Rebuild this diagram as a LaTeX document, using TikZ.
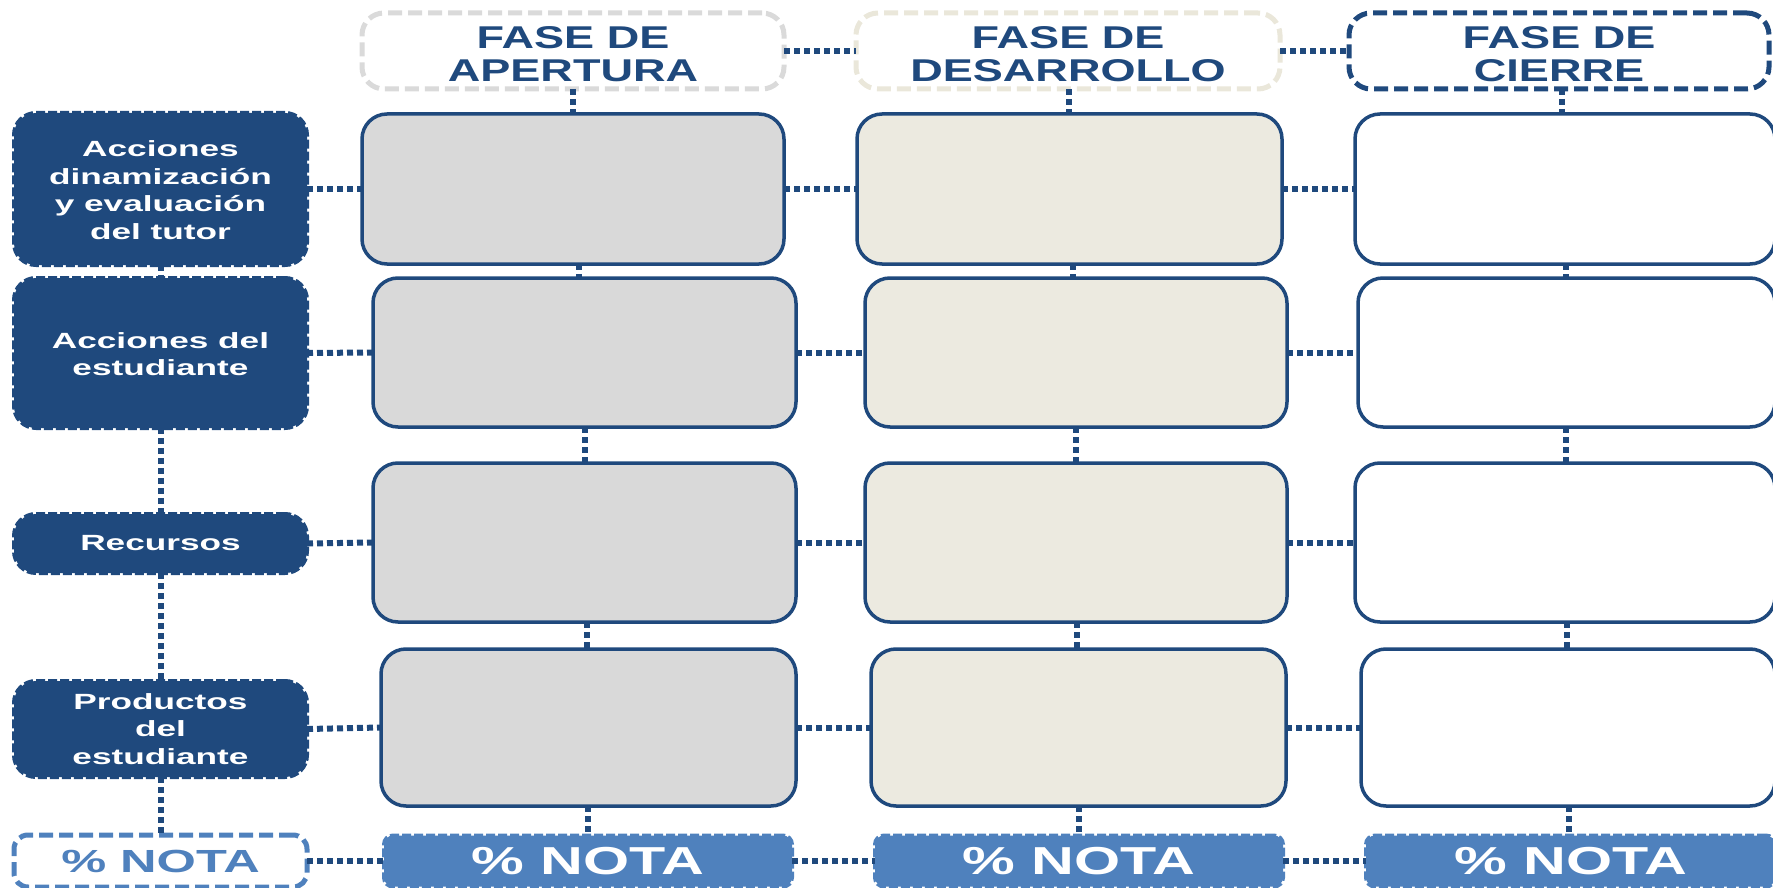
\documentclass[tikz,border=0pt]{standalone}
\usepackage{fontspec}
\setmainfont{Liberation Sans}
\usepackage{graphicx}
\usetikzlibrary{calc}
\definecolor{navy}{HTML}{1F497D}
\definecolor{notablue}{HTML}{4F81BD}
\definecolor{grayfill}{HTML}{D9D9D9}
\definecolor{beigefill}{HTML}{ECEAE0}
\definecolor{beigeline}{HTML}{EAE7DA}
\definecolor{grayline}{HTML}{DADADA}
\newcommand{\sx}[3][-3pt]{\raisebox{#1}[\height][\depth]{\scalebox{#2}[1]{\begin{tabular}{@{}c@{}}#3\end{tabular}}}}
\newcommand{\vcon}[2]{\coordinate (vm) at ($(#1.south)!.5!(#2.north)$); \draw[conn] (vm |- #1.south) -- (vm |- #2.north);}
\begin{document}
\begin{tikzpicture}[x=1pt,y=-1pt,
  every node/.style={inner sep=0pt, outer sep=0pt},
  sz/.style 2 args={minimum width=#1pt, minimum height=#2pt},
  hdr/.style={fill=white, line width=5pt, dash pattern=on 14pt off 6pt, rounded corners=22pt, text=navy, font=\fontsize{31.5}{33}\selectfont\bfseries},
  lbl/.style={fill=navy, draw=navy, line width=4pt, dash pattern=on 9pt off 3pt, rounded corners=22pt, text=white, font=\fontsize{22}{27.5}\selectfont\bfseries},
  nota/.style={fill=notablue, draw=notablue, line width=4pt, dash pattern=on 9pt off 3pt, rounded corners=9pt, text=white, font=\fontsize{39}{44}\selectfont\bfseries},
  notaw/.style={fill=white, draw=notablue, line width=5pt, dash pattern=on 14pt off 6pt, rounded corners=14pt, text=notablue, font=\fontsize{32}{36}\selectfont\bfseries},
  cellbox/.style={draw=navy, line width=3.5pt, rounded corners=25pt},
  cellA/.style={cellbox, fill=grayfill},
  cellB/.style={cellbox, fill=beigefill},
  cellC/.style={cellbox, fill=white},
  conn/.style={draw=navy, line width=6pt, dash pattern=on 6pt off 4pt}
]
\useasboundingbox (0,0) rectangle (1773,888);
% headers
\node[hdr, draw=grayline, sz={422}{76}] (h1) at (573,51) {\sx[-7.5pt]{1.43}{FASE DE\\APERTURA}};
\node[hdr, draw=beigeline, sz={424}{76}] (h2) at (1068,51) {\sx[-7.5pt]{1.43}{FASE DE\\DESARROLLO}};
\node[hdr, draw=navy, sz={420}{76}] (h3) at (1559,51) {\sx[-7.5pt]{1.43}{FASE DE\\CIERRE}};
% left labels
\node[lbl, sz={293}{152}] (l1) at (160.5,189) {\sx[-3.5pt]{1.6}{Acciones\\dinamización\\y evaluación\\del tutor}};
\node[lbl, sz={293}{150}] (l2) at (160.5,353) {\sx[-3.5pt]{1.6}{Acciones del\\estudiante}};
\node[lbl, sz={293}{59}] (l3) at (160.5,543.5) {\scalebox{1.6}[1]{Recursos}};
\node[lbl, sz={293}{96}] (l4) at (160.5,729) {\sx[-2pt]{1.6}{Productos\\del\\estudiante}};
\node[notaw, sz={293}{52}] (l5) at (160.5,861) {\scalebox{1.58}[1]{\% NOTA}};
% column 1
\node[cellA, sz={422}{150}] (a1) at (573,189) {};
\node[cellA, sz={423}{149}] (a2) at (584.5,352.5) {};
\node[cellA, sz={423}{159}] (a3) at (584.5,542.5) {};
\node[cellA, sz={415}{157}] (a4) at (588.5,727.5) {};
\node[nota, sz={408}{51}] (a5) at (588,861) {\scalebox{1.52}[1]{\% NOTA}};
% column 2
\node[cellB, sz={425}{150}] (b1) at (1069.5,189) {};
\node[cellB, sz={422}{149}] (b2) at (1076,352.5) {};
\node[cellB, sz={422}{159}] (b3) at (1076,542.5) {};
\node[cellB, sz={415}{157}] (b4) at (1078.5,727.5) {};
\node[nota, sz={408}{51}] (b5) at (1079,861) {\scalebox{1.52}[1]{\% NOTA}};
% column 3
\node[cellC, sz={420}{150}] (c1) at (1565,189) {};
\node[cellC, sz={417}{149}] (c2) at (1566.5,352.5) {};
\node[cellC, sz={420}{159}] (c3) at (1565,542.5) {};
\node[cellC, sz={414}{157}] (c4) at (1568,727.5) {};
\node[nota, sz={409}{51}] (c5) at (1570.5,861) {\scalebox{1.52}[1]{\% NOTA}};
% horizontal connectors
\draw[conn] (h1.east) -- (h2.west);
\draw[conn] (h2.east) -- (h3.west);
\foreach \r in {1,...,5}{
  \draw[conn] (l\r.east) -- (a\r.west);
  \draw[conn] (a\r.east) -- (b\r.west);
  \draw[conn] (b\r.east) -- (c\r.west);
}
% vertical connectors
\vcon{h1}{a1} \vcon{h2}{b1} \vcon{h3}{c1}
\vcon{l1}{l2} \vcon{l2}{l3} \vcon{l3}{l4} \vcon{l4}{l5}
\vcon{a1}{a2} \vcon{a2}{a3} \vcon{a3}{a4} \vcon{a4}{a5}
\vcon{b1}{b2} \vcon{b2}{b3} \vcon{b3}{b4} \vcon{b4}{b5}
\vcon{c1}{c2} \vcon{c2}{c3} \vcon{c3}{c4} \vcon{c4}{c5}
\end{tikzpicture}
\end{document}
